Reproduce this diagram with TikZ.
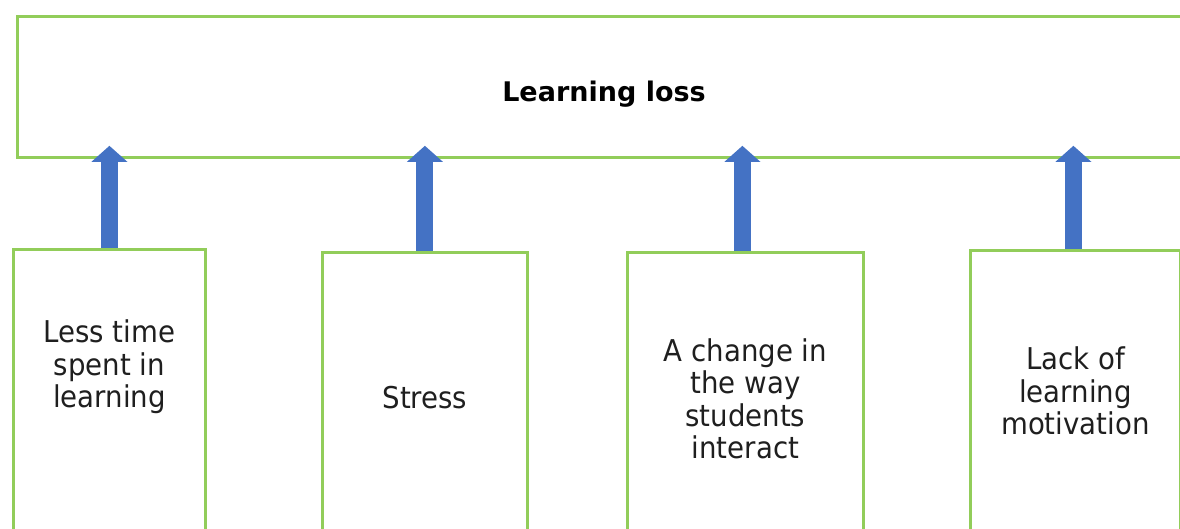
\documentclass[tikz,border=0pt]{standalone}
\usepackage{fontspec}
\setmainfont{DejaVu Sans}
\newfontfamily\causefont[FakeStretch=0.92]{DejaVu Sans}
\usepackage{tikz}
\usetikzlibrary{calc}
\usetikzlibrary{arrows.meta}
\usetikzlibrary{positioning}
\definecolor{leafgreen}{RGB}{146, 205, 90}
\definecolor{officeblue}{RGB}{68, 114, 196}

\begin{document}
\begin{tikzpicture}[x=1pt, y=-1pt,
        catbox/.style   = {draw=leafgreen, line width=2.8pt, fill=white, rectangle, inner sep=0pt, anchor=north west},
        cattext/.style  = {align=center, font=\causefont\fontsize{30}{32.5}\selectfont, text=black!88, inner sep=0pt},
        headtext/.style = {font=\fontsize{27}{30}\selectfont\bfseries, text=black, inner sep=0pt},
        uparrow/.style  = {draw=officeblue, line width=17pt, -{Triangle[width=35pt, length=16pt]}}]
            \useasboundingbox (0,0) rectangle (1180,528);
            \clip             (0,0) rectangle (1180,528);
            \fill[white]      (0,0) rectangle (1180,528);
            % effect box
            \node[catbox, minimum width=1175pt, minimum height=141pt] (loss)     at (  16, 15) {};
            \node[headtext]                                           (losstext) at ( 604, 94) {Learning loss};
            % cause boxes
            \node[catbox, minimum width=192pt, minimum height=320pt]  (less)     at (  12,248) {};
            \node[catbox, minimum width=205pt, minimum height=320pt]  (stress)   at ( 321,251) {};
            \node[catbox, minimum width=236pt, minimum height=320pt]  (change)   at ( 626,251) {};
            \node[catbox, minimum width=210pt, minimum height=320pt]  (lack)     at ( 969,249) {};
            \node[cattext] (lesstext)   at ($(less.north)+(0,119)$)   {Less time\\spent in\\learning};
            \node[cattext] (stresstext) at ($(stress.north)+(0,147)$) {Stress};
            \node[cattext] (changetext) at ($(change.north)+(0,148)$) {A change in\\the way\\students\\interact};
            \node[cattext] (lacktext)   at ($(lack.north)+(0,142)$)   {Lack of\\learning\\motivation};
            % arrows
            \draw[uparrow] (less.north)   -- ($(less.north |- loss.south)+(0,-13)$);
            \draw[uparrow] (stress.north) -- ($(stress.north |- loss.south)+(0,-13)$);
            \draw[uparrow] ([xshift=-3pt]change.north) -- ($([xshift=-3pt]change.north |- loss.south)+(0,-13)$);
            \draw[uparrow] ([xshift=-2pt]lack.north)   -- ($([xshift=-2pt]lack.north |- loss.south)+(0,-13)$);
\end{tikzpicture}
\end{document}
